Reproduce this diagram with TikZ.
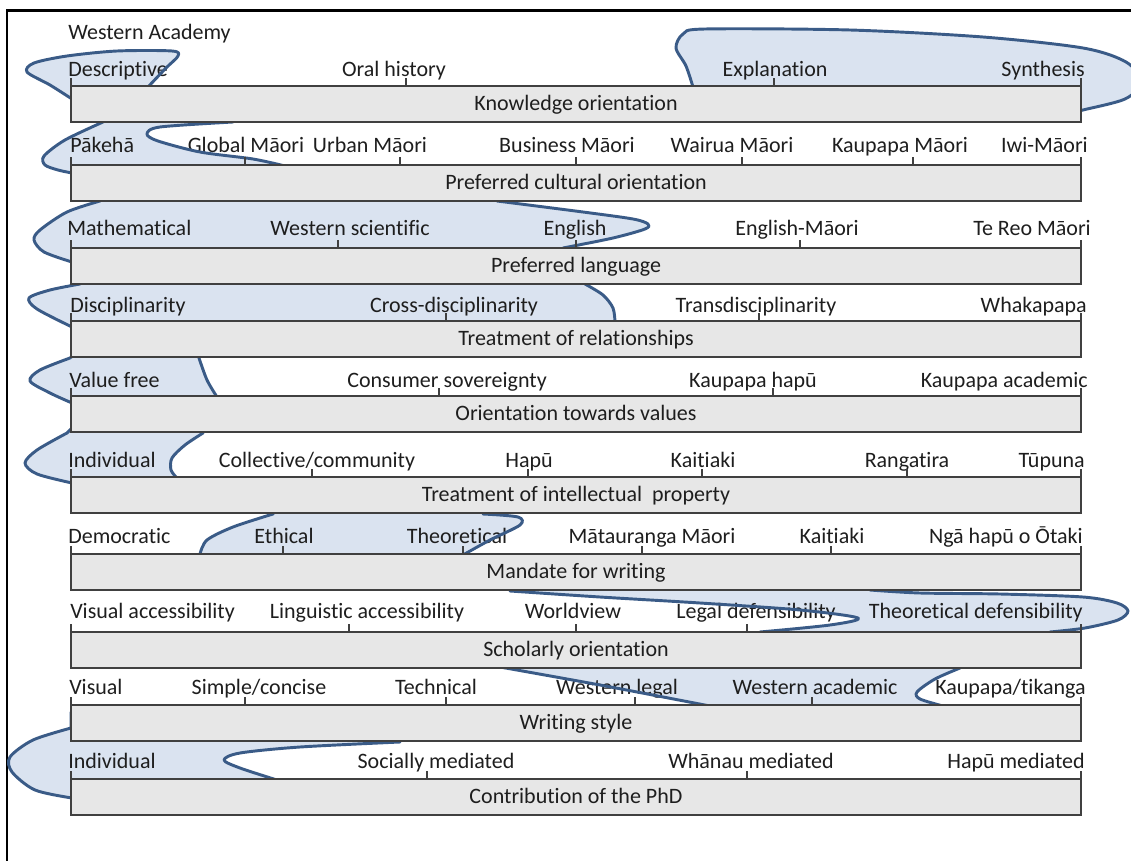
\documentclass[tikz,border=0pt]{standalone}
\usepackage{fontspec}
\setmainfont{Carlito}[Ligatures=NoCommon]
\definecolor{wavefill}{HTML}{DAE3F0}
\definecolor{waveline}{HTML}{3A5B87}
\definecolor{barfill}{HTML}{E7E7E7}
\definecolor{barline}{HTML}{404040}
\definecolor{inkgrey}{HTML}{1E1E1E}
\tikzset{
  bar/.style={draw=barline, fill=barfill, line width=1.1pt},
  tick/.style={draw=barline, line width=0.8pt},
  lbl/.style={inner sep=0pt, anchor=base, text=inkgrey, font=\fontsize{16.5}{20}\selectfont},
  lbll/.style={lbl, anchor=base west},
  lblr/.style={lbl, anchor=base east},
  wave/.style={draw=waveline, line width=2.2pt, line join=round},
}
% the blue band, one piece per gap; the straight bits run hidden inside the bars
\newcommand\wavepath{
  (120,104) -- plot[smooth] coordinates {(72,99) (50,85) (27,72) (34,63) (67,56) (117,51) (172,51) (178,56) (166,68) (148,87)} -- (148,104) -- cycle
  (693,104) -- plot[smooth] coordinates {(693,87) (686,66) (676,48) (683,34) (705,29) (850,30) (983,37) (1083,48) (1126,62) (1142,82) (1125,99) (1083,110) (1076,112)} -- (1070,104) -- cycle
  (110,112) -- plot[smooth] coordinates {(103,122) (65,140) (44,156) (45,165) (58,170) (72,173)} -- (80,182) -- (290,182) -- plot[smooth] coordinates {(285,166) (253,159) (200,152) (158,141) (147,134) (160,127) (233,122)} -- (233,112) -- cycle
  (105,192) -- plot[smooth] coordinates {(100,201) (67,212) (40,230) (34,240) (44,252) (72,262)} -- (80,268) -- (560,268) -- plot[smooth] coordinates {(563,248) (613,238) (645,229) (648,224) (633,219) (583,212) (497,201)} -- (497,192) -- cycle
  (90,275) -- plot[smooth] coordinates {(80,284) (50,290) (29,298) (37,309) (72,327)} -- (80,340) -- (615,340) -- plot[smooth] coordinates {(615,322) (613,308) (603,295) (585,284)} -- (585,275) -- cycle
  (80,350) -- plot[smooth] coordinates {(70,358) (40,370) (30,381) (50,393) (72,403)} -- (80,415) -- (218,415) -- plot[smooth] coordinates {(217,397) (207,380) (199,358)} -- (199,350) -- cycle
  (75,425) -- plot[smooth] coordinates {(67,433) (37,450) (25,463) (37,474) (72,483)} -- (80,495) -- (178,495) -- plot[smooth] coordinates {(177,478) (171,470) (172,458) (185,445) (203,433)} -- (203,425) -- cycle
  (275,505) -- plot[smooth] coordinates {(273,514) (233,527) (207,540) (200,554)} -- (200,570) -- (463,570) -- plot[smooth] coordinates {(463,555) (490,540) (520,525) (518,517) (483,514)} -- (483,505) -- cycle
  (510,580) -- plot[smooth] coordinates {(510,591) (600,597) (700,603) (800,610) (858,618) (830,625) (760,632)} -- (760,648) -- (1050,648) -- plot[smooth] coordinates {(1050,632) (1085,628) (1118,620) (1128,611) (1117,603) (1083,597) (1000,594) (920,593) (870,590)} -- (870,580) -- cycle
  (500,655) -- plot[smooth] coordinates {(500,667) (600,685) (710,706)} -- (710,722) -- (945,722) -- plot[smooth] coordinates {(943,706) (920,699) (917,692) (935,679) (960,668)} -- (960,655) -- cycle
  (90,712) -- (71,712) -- plot[smooth] coordinates {(71,728) (33,740) (10,757) (12,772) (35,790) (72,798)} -- (80,800) -- (278,800) -- plot[smooth] coordinates {(277,780) (240,768) (224,760) (240,753) (300,747) (400,742)} -- (400,730) -- cycle
}
\begin{document}
\begin{tikzpicture}[x=0.75pt, y=-0.75pt]
  \useasboundingbox (0,0) rectangle (1131,860);
  \draw[line width=2pt] (7,10.5) rectangle (1145,875);
  \fill[wavefill] \wavepath;

  \node (wacad) at (68,39) [lbll] {Western Academy};
  % knowledge
  \node (descr) at (68,76) [lbll] {Descriptive};
  \node (oral) at (394,76) [lbl] {Oral history};
  \node (expl) at (775,76) [lbl] {Explanation};
  \node (synth) at (1085,76) [lblr] {Synthesis};
  % culture
  \node (pakeha) at (70,152) [lbll] {Pākehā};
  \node (global) at (246,152) [lbl] {Global Māori};
  \node (urban) at (370,152) [lbl] {Urban Māori};
  \node (business) at (567,152) [lbl] {Business Māori};
  \node (wairua) at (732,152) [lbl] {Wairua Māori};
  \node (kaupapa) at (900,152) [lbl] {Kaupapa Māori};
  \node (iwi) at (1088,152) [lblr] {Iwi-Māori};
  % language
  \node (maths) at (67,235) [lbll] {Mathematical};
  \node (wsci) at (350,235) [lbl] {Western scientific};
  \node (engl) at (575,235) [lbl] {English};
  \node (englm) at (797,235) [lbl] {English-Māori};
  \node (tereo) at (1091,235) [lblr] {Te Reo Māori};
  % relationships
  \node (disc) at (70,312) [lbll] {Disciplinarity};
  \node (cross) at (454,312) [lbl] {Cross-disciplinarity};
  \node (trans) at (756,312) [lbl] {Transdisciplinarity};
  \node (whaka) at (1087,312) [lblr] {Whakapapa};
  % values
  \node (vfree) at (69,387) [lbll] {Value free};
  \node (consum) at (447,387) [lbl] {Consumer sovereignty};
  \node (khapu) at (753,387) [lbl] {Kaupapa hapū};
  \node (kacad) at (1088,387) [lblr] {Kaupapa academic};
  % property
  \node (indiv) at (68,467) [lbll] {Individual};
  \node (collect) at (317,467) [lbl] {Collective/community};
  \node (hapu) at (529,467) [lbl] {Hapū};
  \node (kait) at (703,467) [lbl] {Kaitiaki};
  \node (rang) at (907,467) [lbl] {Rangatira};
  \node (tupuna) at (1085,467) [lblr] {Tūpuna};
  % mandate
  \node (demo) at (68,543) [lbll] {Democratic};
  \node (ethic) at (284,543) [lbl] {Ethical};
  \node (theor) at (457,543) [lbl] {Theoretical};
  \node (matau) at (652,543) [lbl] {Mātauranga Māori};
  \node (kait2) at (832,543) [lbl] {Kaitiaki};
  \node (otaki) at (1083,543) [lblr] {Ngā hapū o Ōtaki};
  % scholarly
  \node (vacc) at (70,618) [lbll] {Visual accessibility};
  \node (lacc) at (367,618) [lbl] {Linguistic accessibility};
  \node (world) at (573,618) [lbl] {Worldview};
  \node (legal) at (756,618) [lbl] {Legal defensibility};
  \node (tdef) at (1083,618) [lblr] {Theoretical defensibility};
  % style
  \node (visual) at (69,694) [lbll] {Visual};
  \node (simple) at (259,694) [lbl] {Simple/concise};
  \node (techn) at (436,694) [lbl] {Technical};
  \node (wlegal) at (617,694) [lbl] {Western legal};
  \node (wacadem) at (815,694) [lbl] {Western academic};
  \node (tikanga) at (1086,694) [lblr] {Kaupapa/tikanga};
  % contribution
  \node (indiv2) at (68,768) [lbll] {Individual};
  \node (social) at (436,768) [lbl] {Socially mediated};
  \node (whanau) at (751,768) [lbl] {Whānau mediated};
  \node (hapumed) at (1085,768) [lblr] {Hapū mediated};

  \draw[wave] \wavepath;

  \foreach \t/\lab [count=\i] in {86/Knowledge orientation, 165/Preferred cultural orientation,
      248/Preferred language, 321/Treatment of relationships, 396/Orientation towards values,
      477/Treatment of intellectual\ \ property, 554/Mandate for writing, 632/Scholarly orientation,
      705/Writing style, 779/Contribution of the PhD} {
    \draw[bar] (71,\t) rectangle (1081,\t+36);
    \draw[tick] (71,\t) -- (71,\t-8) (1081,\t) -- (1081,\t-8);
    \node (bar\i) at (576,\t+24) [lbl] {\lab};
  }
  \foreach \t/\xs in {86/{406,774}, 165/{245,400,576,742,913}, 248/{338,576,800},
      321/{446,759}, 396/{439,773}, 477/{312,528,702,907}, 554/{283,463,642,831},
      632/{349,576,747}, 705/{245,446,635,812}, 779/{427,747}}
    \foreach \x in \xs \draw[tick] (\x,\t) -- (\x,\t-8);
\end{tikzpicture}
\end{document}
